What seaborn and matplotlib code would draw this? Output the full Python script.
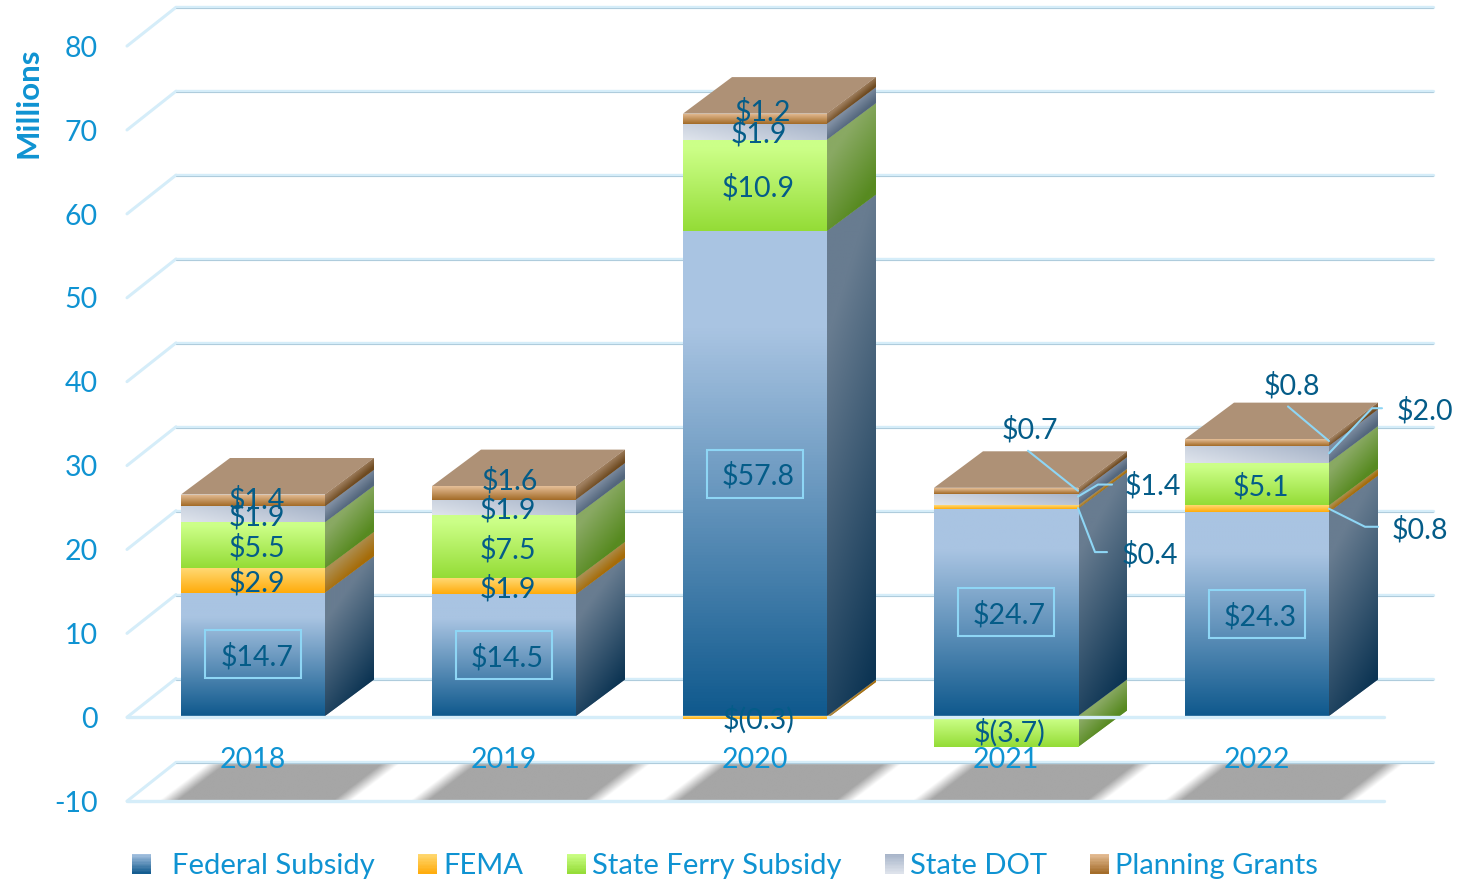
import numpy as np
import pandas as pd
import matplotlib
matplotlib.use("Agg")
import matplotlib.pyplot as plt
from matplotlib.colors import to_rgb
from matplotlib.legend_handler import HandlerBase
from matplotlib.patches import Polygon, Rectangle, Patch
from matplotlib.transforms import ScaledTranslation
import seaborn as sns

# ---- data ----
years = ["2018", "2019", "2020", "2021", "2022"]
federal = [14.7, 14.5, 57.8, 24.7, 24.3]
fema = [2.9, 1.9, -0.3, 0.4, 0.8]
ferry = [5.5, 7.5, 10.9, -3.7, 5.1]
dot = [1.9, 1.9, 1.9, 1.4, 2.0]
planning = [1.4, 1.6, 1.2, 0.7, 0.8]
series_names = ["Federal Subsidy", "FEMA", "State Ferry Subsidy", "State DOT", "Planning Grants"]
y_levels = list(range(-10, 90, 10))

# ---- style ----
sns.set_theme(style="white")
plt.rcParams["font.family"] = ["Lato", "DejaVu Sans"]
plt.rcParams["axes.unicode_minus"] = False
BLUE = "#0f93d2"
LABEL = "#045c88"
LEADER = "#8ed6f5"
FS = 20.5
W, H = 1460, 882
PXX, PXY = 251.0, 8.39          # pixels per category / per million
DX, DY = 49 / PXX, 36.5 / PXY   # oblique depth offset
BAR_W = 144 / PXX

front_cols = [("#a9c4e2", "#0f598d"), ("#ffd973", "#ffab0a"), ("#ccff88", "#94dc36"),
              ("#a6b3c8", "#dfe4ec"), ("#e6bf98", "#a26a26")]
side_cols = [("#687c90", "#0c3453"), ("#ad8e50", "#a66c08"), ("#89a963", "#578a20"),
             ("#7f8ea2", "#54677d"), ("#a08060", "#6e4a20")]
plateau = [0.2, 0, 0.1, 0, 0]
TOP = "#ae9176"

df = pd.DataFrame({"year": years, series_names[0]: federal, series_names[1]: fema,
                   series_names[2]: ferry, series_names[3]: dot, series_names[4]: planning})

fig = plt.figure(figsize=(W / 100, H / 100), dpi=100, facecolor="white")
BOTTOM_PX, LEFT_PX = 806, 102
ax = fig.add_axes([LEFT_PX / W, 1 - BOTTOM_PX / H, (W - LEFT_PX) / W, BOTTOM_PX / H])

# stacked bars through seaborn
stack_pos = np.zeros(len(years))
segments = []   # (series index, year index, low, high)
for j, name in enumerate(series_names):
    vals = df[name].to_numpy(float)
    bottoms = np.where(vals >= 0, stack_pos, 0.0)
    n0 = len(ax.patches)
    sns.barplot(data=df, x="year", y=name, bottom=bottoms, width=BAR_W, color=front_cols[j][1],
                saturation=1, errorbar=None, ax=ax, linewidth=0)
    for i, p in enumerate(ax.patches[n0:]):
        segments.append((j, i, bottoms[i], bottoms[i] + vals[i], p))
    stack_pos = stack_pos + np.where(vals >= 0, vals, 0.0)
tops = stack_pos

ax.set_xlim((LEFT_PX - 253) / PXX, (W - 253) / PXX)
ax.set_ylim(-(BOTTOM_PX - 716) / PXY, 716 / PXY)
ax.set_autoscale_on(False)
for s in ax.spines.values():
    s.set_visible(False)


def ramp(c0, c1, t):
    a, b = np.array(to_rgb(c0)), np.array(to_rgb(c1))
    return a + (b - a) * np.clip(t, 0, 1)[..., None]


# grid: back wall, left wall, floor
X0 = -77 / PXX
SPAN = 1257 / PXX
WALL_DY = 37.5 / PXY
GRID, CORE = "#d5edf9", "#aecbdc"
for v in y_levels:
    ax.plot([X0 - DX, X0], [v - 0.15, v + WALL_DY], color=GRID, lw=2.2, zorder=1.2, solid_capstyle="round")
    ax.plot([X0, X0 + SPAN], [v + WALL_DY, v + WALL_DY], color=GRID, lw=2.4, zorder=1.2)
    ax.plot([X0, X0 + SPAN], [v + WALL_DY - 0.12, v + WALL_DY - 0.12], color=CORE, lw=0.7, zorder=1.25)
for v in y_levels[:2]:
    ax.plot([X0 - DX, X0 - DX + SPAN], [v - 0.15, v - 0.15], color=GRID, lw=2.4, zorder=5)

# floor shadows
xx, yy = np.meshgrid(np.linspace(0, 1, 300), np.linspace(0, 1, 60))
for i in range(len(years)):
    lo, hi = i - 84 / PXX, i + 90 / PXX
    ex0, ex1 = lo - 0.1, hi + DX + 0.1
    x = ex0 + xx * (ex1 - ex0)
    sk = yy * DX
    blur = 18 / PXX
    al = np.clip((x - lo - sk) / blur + .5, 0, 1) * np.clip((hi + sk - x) / blur + .5, 0, 1)
    rgba = np.zeros(x.shape + (4,))
    rgba[..., :3] = to_rgb("#a6a6a6")
    rgba[..., 3] = al
    ax.imshow(rgba, extent=(ex0, ex1, y_levels[0], y_levels[0] + WALL_DY), origin="lower",
              aspect="auto", zorder=1.1)

# faces
u, v = np.meshgrid(np.linspace(0, 1, 48), np.linspace(0, 1, 160))
for j, i, low, high, patch in segments:
    y0, y1 = min(low, high), max(low, high)
    xl, xr = i - BAR_W / 2, i + BAR_W / 2
    # front gradient, clipped to the seaborn bar
    thin_negative = high < low and (low - high) < 1
    face_z = 5.5 if thin_negative else 3.5
    patch.set_zorder(face_z)
    t = (1 - v - plateau[j]) / (1 - plateau[j])
    if j == 3:
        t = (1 - v) * 0.35 + (1 - u) * 0.65
    im = ax.imshow(ramp(*front_cols[j], t), extent=(xl, xr, y0, y1), origin="lower",
                   aspect="auto", zorder=face_z + 0.1)
    im.set_clip_path(patch)
    # side gradient
    z = 3.0 if high < low else 3.2
    side = Polygon([(xr, y0), (xr + DX, y0 + DY), (xr + DX, y1 + DY), (xr, y1)],
                   closed=True, fc=side_cols[j][0], ec="none", zorder=z)
    ax.add_patch(side)
    vy = v * (y1 - y0 + DY)                     # height above y0 in the picture box
    rel = (vy - u * DY) / max(y1 - y0, 1e-6)    # height along the slanted face
    ts = (1 - rel - plateau[j] * .5) + (u - .5) * (0.35 if j else 0.25)
    ims = ax.imshow(ramp(*side_cols[j], ts), extent=(xr, xr + DX, y0, y1 + DY), origin="lower",
                    aspect="auto", zorder=z + 0.05)
    ims.set_clip_path(side)

# lids
for i, top in enumerate(tops):
    xl, xr = i - BAR_W / 2, i + BAR_W / 2
    ax.add_patch(Polygon([(xl, top), (xl + DX, top + DY), (xr + DX, top + DY), (xr, top)],
                         closed=True, fc=TOP, ec="none", zorder=3.4))

# value labels
def money(val):
    return f"$({abs(val):.1f})" if val < 0 else f"${val:.1f}"

label_shift = {(0, 4): (4, 3), (1, 4): (6, 15), (2, 4): (8, 9), (0, 0): (4, 0), (0, 1): (4, 0),
               (0, 2): (4, 0), (0, 3): (4, 0), (1, 0): (3, 0), (3, 2): (3.5, 1)}
# callouts: leader vertices and text centre, px offsets from the segment's front right corner
callouts = {(3, 4): ([(0, 0), (-50, -40)], (-48, -63)),
            (3, 3): ([(0, -3), (20, -15), (34, -15)], (75, -16)),
            (3, 1): ([(0, 1), (17, 45), (29, 45)], (72, 45)),
            (4, 4): ([(0, -1.5), (-41, -36)], (-37, -59)),
            (4, 3): ([(0, -1), (43, -46), (53, -46)], (96, -46)),
            (4, 1): ([(0, 0), (36, 18), (49, 18)], (91, 18))}
for j, i, low, high, patch in segments:
    mid = (low + high) / 2
    val = high - low
    key = (i, j)
    if key in callouts:
        pts, (tx, ty) = callouts[key]
        ax_x = i + BAR_W / 2
        ax.plot([ax_x + p[0] / PXX for p in pts], [mid - p[1] / PXY for p in pts],
                color=LEADER, lw=1.5, zorder=6)
        ax.text(ax_x + tx / PXX, mid - ty / PXY, money(val), color=LABEL, fontsize=FS,
                ha="center", va="center_baseline", zorder=7)
        continue
    sx, sy = label_shift.get(key, (3.5, 0))
    ax.text(i + sx / PXX, mid + sy / PXY, money(val), color=LABEL, fontsize=FS,
            ha="center", va="center_baseline", zorder=7)
    if j == 0:
        bw, bh = 96 / PXX, 48 / PXY
        ax.add_patch(Rectangle((i - bw / 2, mid - bh / 2), bw, bh, fc="none", ec=LEADER,
                               lw=1.5, zorder=6))

# axes text
ax.set_yticks(y_levels)
ax.set_xticks(range(len(years)))
ax.set_xticklabels(years)
ax.tick_params(axis="y", length=0, pad=3, labelsize=FS, labelcolor=BLUE)
ax.tick_params(axis="x", length=0, pad=-42.5, labelsize=FS, labelcolor=BLUE)
drop = ScaledTranslation(0, -1.5 / 100, fig.dpi_scale_trans)
for lab in ax.get_yticklabels():
    lab.set_transform(lab.get_transform() + drop)
ax.set_xlabel("")
ax.set_ylabel("Millions", color=BLUE, fontsize=22.5, fontweight="bold")
ax.yaxis.set_label_coords((43 - LEFT_PX) / (W - LEFT_PX), 1 - 103 / BOTTOM_PX)
ax.xaxis.set_zorder(8)
ax.yaxis.set_zorder(8)


# legend with gradient swatches
class GradHandler(HandlerBase):
    def create_artists(self, legend, orig, xd, yd, width, height, fontsize, trans):
        c0, c1 = orig.grad
        out = []
        n = 14
        for k in range(n):
            col = ramp(c0, c1, np.array((k + .5) / n))
            out.append(Rectangle((-xd, -yd + height * (1 - (k + 1) / n)), width, height / n + .15,
                                 fc=col, ec="none", transform=trans))
        return out


handles = []
for j, name in enumerate(series_names):
    h = Patch(label=("  " + name) if j == 0 else name)
    h.grad = list(front_cols[j])
    handles.append(h)
leg = ax.legend(handles=handles, handler_map={Patch: GradHandler()}, ncols=5, frameon=False,
                loc="center left", bbox_to_anchor=(132 / W, 1 - 866 / H), bbox_transform=fig.transFigure,
                borderpad=0, borderaxespad=0, fontsize=21, handlelength=0.65, handleheight=0.66,
                handletextpad=0.2, columnspacing=1.5, labelcolor=BLUE)

fig.savefig("out.png", dpi=100, facecolor="white")
